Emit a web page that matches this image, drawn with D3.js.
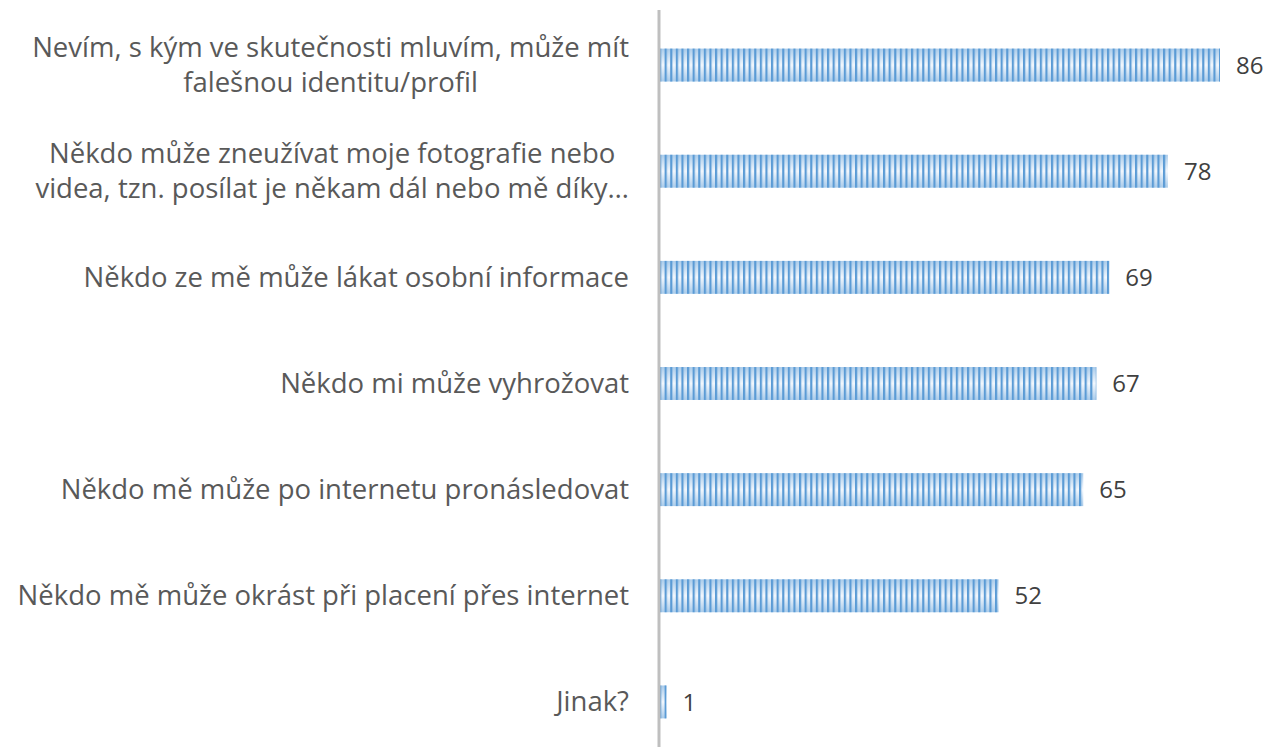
<!DOCTYPE html>
<html>
<head>
<meta charset="utf-8">
<script src="https://cdn.jsdelivr.net/npm/d3@7"></script>
<style>
  body { margin: 0; background: #fff; }
  svg { display: block; }
</style>
</head>
<body>
<div id="chart"></div>
<script>
const categories = [
    ['Nevím, s kým ve skutečnosti mluvím, může mít', 'falešnou identitu/profil'],
    ['Někdo může zneužívat moje fotografie nebo', 'videa, tzn. posílat je někam dál nebo mě díky…'],
    ['Někdo ze mě může lákat osobní informace'],
    ['Někdo mi může vyhrožovat'],
    ['Někdo mě může po internetu pronásledovat'],
    ['Někdo mě může okrást při placení přes internet'],
    ['Jinak?']
];
const values = [86, 78, 69, 67, 65, 52, 1];

const w = 1267;
const h = 747;
const axisX = 659;
const labelRight = 629;

const svg = d3.select('#chart').append('svg').attr('width', w).attr('height', h);

const defs = svg.append('defs');
const grad = defs.append('linearGradient').attr('id', 'barGrad')
    .attr('x1', 0).attr('y1', 0).attr('x2', 0).attr('y2', 1);
grad.append('stop').attr('offset', '0%').attr('stop-color', '#a9cbea');
grad.append('stop').attr('offset', '50%').attr('stop-color', '#f2f7fd');
grad.append('stop').attr('offset', '100%').attr('stop-color', '#a9cbea');

const stripes = defs.append('pattern').attr('id', 'stripes')
    .attr('patternUnits', 'userSpaceOnUse')
    .attr('width', 5.6).attr('height', 10).attr('x', axisX);
stripes.append('rect').attr('x', 0).attr('y', 0).attr('width', 2.2).attr('height', 10).attr('fill', '#5b9bd5');

const ids = categories.map((c, i) => i);
const xScale = d3.scaleLinear().domain([0, 86]).range([axisX + 1, 1220]);
const yScale = d3.scaleBand().domain(ids).range([12, 755]).paddingInner(0.69).paddingOuter(0.345);

const bars = svg.append('g').selectAll('g')
    .data(values)
    .enter()
    .append('g');
bars.append('rect')
    .attr('x', xScale(0))
    .attr('y', (d, i) => yScale(i))
    .attr('width', d => xScale(d) - xScale(0))
    .attr('height', yScale.bandwidth())
    .attr('fill', 'url(#barGrad)');
bars.append('rect')
    .attr('x', xScale(0))
    .attr('y', (d, i) => yScale(i))
    .attr('width', d => xScale(d) - xScale(0))
    .attr('height', yScale.bandwidth())
    .attr('fill', 'url(#stripes)');

svg.append('g').selectAll('text')
    .data(values)
    .enter()
    .append('text')
    .attr('x', d => xScale(d) + 16)
    .attr('y', (d, i) => yScale(i) + yScale.bandwidth() / 2)
    .attr('dy', '0.36em')
    .style('font-family', '"Open Sans", sans-serif')
    .style('font-size', '24px')
    .style('fill', '#404040')
    .text(d => d);

// category labels, multi-line blocks centred and right aligned
const labels = svg.append('g')
    .style('font-family', '"Open Sans", sans-serif')
    .style('font-size', '27.5px')
    .style('fill', '#595959');
categories.forEach((lines, i) => {
    const cy = yScale(i) + yScale.bandwidth() / 2;
    const lh = 35;
    const t = labels.append('text').attr('text-anchor', 'middle');
    lines.forEach((line, j) => {
        t.append('tspan')
            .attr('y', cy + (j - (lines.length - 1) / 2) * lh)
            .attr('dy', '0.34em')
            .text(line);
    });
    const widths = t.selectAll('tspan').nodes().map(n => n.getComputedTextLength());
    const cx = labelRight - d3.max(widths) / 2;
    t.selectAll('tspan').attr('x', cx);
});

svg.append('line')
    .attr('x1', axisX).attr('x2', axisX)
    .attr('y1', 10).attr('y2', h)
    .attr('stroke', '#bfbfbf')
    .attr('stroke-width', 3);
</script>
</body>
</html>
